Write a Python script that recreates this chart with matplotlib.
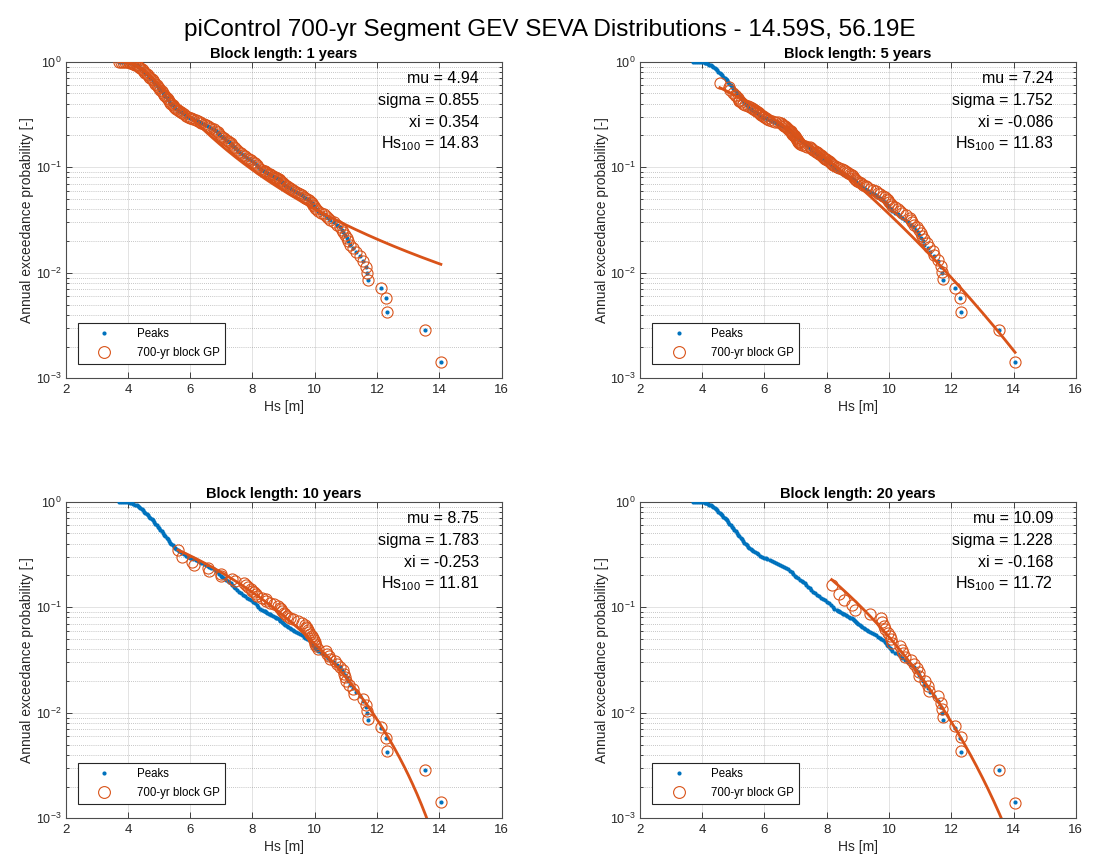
import numpy as np
import matplotlib
matplotlib.use('Agg')
import matplotlib.pyplot as plt
from matplotlib.ticker import LogLocator, NullFormatter, FixedLocator
from matplotlib.lines import Line2D

plt.rcParams['font.family'] = ['Liberation Sans', 'DejaVu Sans']
plt.rcParams['mathtext.fontset'] = 'custom'
plt.rcParams['mathtext.rm'] = 'Liberation Sans'
plt.rcParams['mathtext.it'] = 'Liberation Sans'

BLUE = '#0072BD'
ORANGE = '#D95319'
TXT = '#262626'

# ---------------- data ----------------
block_lengths = [1, 5, 10, 20]
gev_mu = [4.94, 7.24, 8.75, 10.09]
gev_sigma = [0.855, 1.752, 1.783, 1.228]
gev_xi = [0.354, -0.086, -0.253, -0.168]
hs100 = [14.83, 11.83, 11.81, 11.72]

# annual peaks (Hs) and their annual exceedance probability
peaks_hs = [3.72, 3.78, 3.84, 3.90, 3.96, 4.02, 4.08, 4.13, 4.18, 4.23, 4.28, 4.32, 4.36,
            4.40, 4.44, 4.48, 4.52, 4.56, 4.60, 4.64, 4.68, 4.72, 4.76, 4.80, 4.84, 4.88, 4.92, 4.96, 5.00,
            5.04, 5.08, 5.12, 5.16, 5.20, 5.24, 5.28, 5.32, 5.36, 5.40, 5.44, 5.48, 5.52, 5.56, 5.60, 5.65,
            5.70, 5.75, 5.80, 5.86, 5.92, 5.98, 6.04, 6.10, 6.18,
            6.24, 6.30, 6.36, 6.43, 6.50, 6.56, 6.62, 6.68, 6.75, 6.83,
            6.88, 6.93, 6.98, 7.03, 7.09, 7.14, 7.20, 7.25,
            7.30, 7.35, 7.40, 7.45, 7.51, 7.57,
            7.63, 7.70, 7.76, 7.83, 7.89, 7.95,
            8.01, 8.07, 8.13, 8.19, 8.25,
            8.32, 8.36, 8.40, 8.44, 8.48, 8.52, 8.56, 8.61, 8.66, 8.72, 8.76, 8.80, 8.84, 8.87,
            8.90, 8.94, 8.98, 9.02, 9.06, 9.10, 9.15, 9.20, 9.24, 9.29, 9.34, 9.40, 9.45, 9.52,
            9.58, 9.64, 9.70, 9.76, 9.82, 9.88, 9.92, 9.95, 9.98, 10.02, 10.05, 10.09, 10.20,
            10.30, 10.36, 10.42, 10.50, 10.62, 10.72, 10.80, 10.87, 10.92, 10.96, 11.02, 11.08,
            11.13, 11.24, 11.33, 11.45, 11.56, 11.66, 11.69, 11.72, 12.12, 12.29, 12.31, 13.53, 14.05]
peaks_p = [0.9986, 0.998, 0.996, 0.993, 0.99, 0.985, 0.976, 0.968, 0.955, 0.94, 0.925, 0.91, 0.895,
           0.872, 0.85, 0.828, 0.806, 0.786, 0.765, 0.742, 0.722, 0.703, 0.685, 0.665, 0.64, 0.618, 0.598, 0.578, 0.56,
           0.542, 0.523, 0.505, 0.488, 0.472, 0.457, 0.44, 0.425, 0.41, 0.396, 0.385, 0.375, 0.366, 0.357, 0.349, 0.341,
           0.333, 0.325, 0.317, 0.309, 0.301, 0.295, 0.29, 0.285, 0.28,
           0.274, 0.268, 0.262, 0.257, 0.251, 0.245, 0.239, 0.233, 0.228, 0.222,
           0.214, 0.206, 0.199, 0.193, 0.188, 0.183, 0.179, 0.175,
           0.169, 0.163, 0.157, 0.151, 0.146, 0.140,
           0.136, 0.131, 0.127, 0.123, 0.12, 0.117,
           0.113, 0.109, 0.105, 0.101, 0.097,
           0.0942, 0.0927, 0.0913, 0.0899, 0.0884, 0.0870, 0.0856, 0.0842, 0.0827, 0.0813, 0.0799, 0.0785,
           0.0770, 0.0756, 0.0742, 0.0728, 0.0713, 0.0699, 0.0685, 0.0670, 0.0656, 0.0642, 0.0628, 0.0613,
           0.0599, 0.0585, 0.0571, 0.0556, 0.0542, 0.0528, 0.0514, 0.0499, 0.0485, 0.0471, 0.0456, 0.0442,
           0.0428, 0.0414, 0.0399, 0.0385, 0.0371, 0.0357, 0.0342, 0.0328, 0.0314, 0.0300, 0.0285, 0.0271,
           0.0257, 0.0243, 0.0228, 0.0214, 0.0200, 0.0185, 0.0171, 0.0157, 0.0143, 0.0128, 0.0114, 0.00999,
           0.00856, 0.00713, 0.00571, 0.00428, 0.00285, 0.00143]

# block maxima (sorted, largest first) for 5-, 10- and 20-year blocks
bm5_hs = [14.05, 13.53, 12.31, 12.29, 12.12, 11.72, 11.70, 11.67, 11.56, 11.45,
          11.40, 11.30, 11.22, 11.12, 11.05, 11.02, 10.95, 10.90, 10.82, 10.75,
          10.72, 10.68, 10.55, 10.42, 10.35, 10.30, 10.20, 10.10, 10.05, 10.00,
          9.97, 9.93, 9.88, 9.80, 9.72, 9.65, 9.58, 9.50, 9.40, 9.30,
          9.25, 9.18, 9.10, 9.03, 8.98, 8.95, 8.92, 8.88, 8.84, 8.80,
          8.75, 8.70, 8.66, 8.60, 8.55, 8.48, 8.40, 8.33, 8.27, 8.20,
          8.17, 8.13, 8.10, 8.06, 8.02, 7.99, 7.95, 7.91, 7.88, 7.85,
          7.81, 7.77, 7.73, 7.69, 7.65, 7.61, 7.57, 7.53, 7.49, 7.45,
          7.38, 7.30, 7.22, 7.16, 7.12, 7.10, 7.08, 7.07, 7.06, 7.05,
          7.03, 7.01, 6.99, 6.97, 6.95, 6.93, 6.90, 6.88, 6.86, 6.85,
          6.82, 6.79, 6.76, 6.73, 6.70, 6.67, 6.64, 6.61, 6.58, 6.55,
          6.45, 6.35, 6.25, 6.15, 6.08, 6.05, 6.00, 5.95, 5.90, 5.85,
          5.82, 5.78, 5.74, 5.70, 5.65, 5.60, 5.54, 5.48, 5.38, 5.30,
          5.24, 5.20, 5.18, 5.15, 5.10, 5.05, 4.98, 4.90, 4.85, 4.57]
bm10_hs = [14.05, 13.53, 12.31, 12.29, 12.12, 11.72, 11.69, 11.66, 11.55, 11.25,
           11.22, 11.10, 11.00, 10.98, 10.95, 10.90, 10.80, 10.72, 10.65, 10.50,
           10.45, 10.40, 10.35, 10.10, 10.05, 10.02, 10.00, 9.98, 9.95, 9.90,
           9.85, 9.80, 9.78, 9.75, 9.72, 9.68, 9.60, 9.45, 9.30, 9.20,
           9.10, 9.05, 9.00, 8.95, 8.92, 8.88, 8.82, 8.70, 8.55, 8.45,
           8.42, 8.30, 8.15, 8.10, 8.05, 8.00, 7.95, 7.85, 7.78, 7.72,
           7.45, 7.35, 7.00, 6.98, 6.60, 6.58, 6.13, 6.07, 5.74, 5.61]
bm20_hs = [14.05, 13.53, 12.31, 12.30, 12.13, 11.73, 11.70, 11.68, 11.57, 11.30,
           11.26, 11.15, 10.98, 10.97, 10.90, 10.80, 10.70, 10.50, 10.45, 10.42,
           10.35, 10.09, 10.06, 10.03, 9.98, 9.88, 9.83, 9.77, 9.76, 9.38,
           8.90, 8.82, 8.55, 8.40, 8.16]

assert len(peaks_hs) == len(peaks_p)


def block_points(hs, L):
    hs = np.asarray(hs, float)
    n = len(hs)
    r = np.arange(1, n + 1)
    pb = r / (n + 1.0)
    return hs, 1.0 - (1.0 - pb) ** (1.0 / L)


def gev_annual_exceed(x, mu, sigma, xi, L):
    t = 1.0 + xi * (x - mu) / sigma
    t = np.where(t > 0, t, np.nan)
    F = np.exp(-t ** (-1.0 / xi))
    return 1.0 - F ** (1.0 / L)


circles = [
    (np.asarray(peaks_hs), np.asarray(peaks_p)),
    block_points(bm5_hs, 5),
    block_points(bm10_hs, 10),
    block_points(bm20_hs, 20),
]

# ---------------- figure ----------------
fig = plt.figure(figsize=(10.99, 8.55), dpi=100)
W, H = 1099.0, 855.0
positions = [
    (65.6 / W, 1 - 378.3 / H, 436 / W, 316.6 / H),
    (639.8 / W, 1 - 378.3 / H, 436 / W, 316.6 / H),
    (65.6 / W, 1 - 818.3 / H, 436 / W, 316.6 / H),
    (639.8 / W, 1 - 818.3 / H, 436 / W, 316.6 / H),
]

fig.suptitle('piControl 700-yr Segment GEV SEVA Distributions - 14.59S, 56.19E',
             fontsize=17.5, y=0.978, x=0.5, color='black')

for i in range(4):
    ax = fig.add_axes(positions[i])
    L = block_lengths[i]
    chs, cp = circles[i]

    ax.plot(peaks_hs, peaks_p, linestyle='none', marker='o', ms=3.0, mew=0,
            color=BLUE, zorder=3)
    ax.plot(chs, cp, linestyle='none', marker='o', ms=8, mfc='none',
            mec=ORANGE, mew=0.8, zorder=4)
    xx = np.linspace(chs.min(), chs.max(), 300)
    yy = gev_annual_exceed(xx, gev_mu[i], gev_sigma[i], gev_xi[i], L)
    ax.plot(xx, yy, color=ORANGE, lw=2.0, zorder=5)

    ax.set_yscale('log')
    ax.set_xlim(2, 16)
    ax.set_ylim(1e-3, 1)
    ax.xaxis.set_major_locator(FixedLocator(np.arange(2, 17, 2)))
    ax.yaxis.set_major_locator(LogLocator(base=10, numticks=10))
    ax.yaxis.set_minor_locator(LogLocator(base=10, subs=np.arange(2, 10), numticks=20))
    ax.yaxis.set_minor_formatter(NullFormatter())

    ax.grid(True, which='major', color=TXT, alpha=0.15, lw=0.6)
    ax.grid(True, which='minor', axis='y', color=TXT, alpha=0.35, lw=0.6,
            linestyle=(0, (1, 1.5)))
    ax.set_axisbelow(True)
    ax.tick_params(which='both', direction='in', top=True, right=True,
                   colors=TXT, width=0.6)
    ax.tick_params(axis='x', labelsize=9.5, pad=4)
    ax.tick_params(axis='y', labelsize=9, pad=3)
    ax.tick_params(which='major', length=4)
    ax.tick_params(which='minor', length=2)
    for s in ax.spines.values():
        s.set_color('#4d4d4d')
        s.set_linewidth(0.8)

    ax.set_title(f'Block length: {L} years', fontsize=10.5, fontweight='bold',
                 pad=3, color='black')
    ax.set_xlabel('Hs [m]', fontsize=10, color=TXT, labelpad=3)
    ax.set_ylabel('Annual exceedance probability [-]', fontsize=10, color=TXT, labelpad=1)

    tx = 0.948
    ax.text(tx, 0.948, f'mu = {gev_mu[i]:.2f}', transform=ax.transAxes,
            ha='right', va='center', fontsize=11.5, color='black')
    ax.text(tx, 0.879, f'sigma = {gev_sigma[i]:.3f}', transform=ax.transAxes,
            ha='right', va='center', fontsize=11.5, color='black')
    ax.text(tx, 0.809, f'xi = {gev_xi[i]:.3f}', transform=ax.transAxes,
            ha='right', va='center', fontsize=11.5, color='black')
    ax.text(tx, 0.742, 'Hs$_{100}$' + f' = {hs100[i]:.2f}', transform=ax.transAxes,
            ha='right', va='center', fontsize=11.5, color='black')

    h1 = Line2D([], [], linestyle='none', marker='o', ms=3.0, mew=0, color=BLUE)
    h2 = Line2D([], [], linestyle='none', marker='o', ms=8.5, mfc='none', mec=ORANGE, mew=0.8)
    leg = ax.legend([h1, h2], ['Peaks', '700-yr block GP'], loc='lower left',
                    bbox_to_anchor=(0.028, 0.044), borderaxespad=0, fontsize=8.3,
                    fancybox=False, framealpha=1, edgecolor='#262626',
                    handlelength=3.6, handletextpad=1.0, borderpad=0.5,
                    labelspacing=0.55)
    leg.get_frame().set_linewidth(0.8)
    leg.set_zorder(10)

fig.savefig('out.png', dpi=100)
